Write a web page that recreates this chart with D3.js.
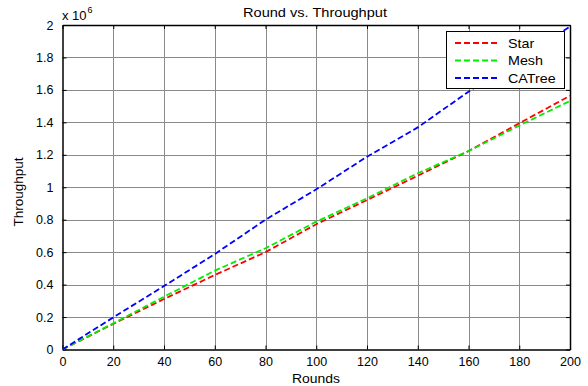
<!DOCTYPE html>
<html><head><meta charset="utf-8">
<script src="https://cdn.jsdelivr.net/npm/d3@7"></script>
<style>body{margin:0;background:#fff;}svg{display:block;font-family:"Liberation Sans",Arial,sans-serif;}</style>
</head><body><svg id="c" width="588" height="386"></svg>
<script>
const rounds = [0, 20, 40, 60, 80, 100, 120, 140, 160, 180, 200];
const star   = [0, 0.158e6, 0.311e6, 0.459e6, 0.600e6, 0.772e6, 0.921e6, 1.071e6, 1.223e6, 1.394e6, 1.564e6];
const mesh   = [0, 0.161e6, 0.325e6, 0.486e6, 0.624e6, 0.788e6, 0.932e6, 1.086e6, 1.223e6, 1.380e6, 1.532e6];
const catree = [0, 0.198e6, 0.391e6, 0.588e6, 0.800e6, 0.987e6, 1.188e6, 1.369e6, 1.589e6, 1.790e6, 1.990e6];
const seriesNames = ["Star", "Mesh", "CATree"];
const seriesColors = ["#ff0000", "#00ee00", "#0000ff"];
const xTicks = [0, 20, 40, 60, 80, 100, 120, 140, 160, 180, 200];
const yTicks = [0, 0.2e6, 0.4e6, 0.6e6, 0.8e6, 1.0e6, 1.2e6, 1.4e6, 1.6e6, 1.8e6, 2.0e6];

const svg = d3.select("#c");
const L = 62.5, R = 570, T = 25, B = 349.5;
const x = d3.scaleLinear().domain([0, 200]).range([L, R]);
const y = d3.scaleLinear().domain([0, 2e6]).range([B, T]);

// grid
const g = svg.append("g");
g.selectAll("line.vx").data(xTicks.slice(1, -1)).join("line")
  .attr("x1", d => Math.round(x(d)) + 0.5).attr("x2", d => Math.round(x(d)) + 0.5)
  .attr("y1", T).attr("y2", B).attr("stroke", "#8a8a8a").attr("stroke-width", 1);
g.selectAll("line.hy").data(yTicks.slice(1, -1)).join("line")
  .attr("y1", d => Math.round(y(d)) + 0.5).attr("y2", d => Math.round(y(d)) + 0.5)
  .attr("x1", L).attr("x2", R).attr("stroke", "#8a8a8a").attr("stroke-width", 1);

// axes
const fs = "12.5px";
const xAxis = d3.axisBottom(x).tickValues(xTicks).tickSizeInner(-4).tickSizeOuter(0).tickPadding(8).tickFormat(d3.format("d"));
const yAxis = d3.axisLeft(y).tickValues(yTicks).tickSizeInner(-4).tickSizeOuter(0).tickPadding(9).tickFormat(d => d / 1e6);
const xa = svg.append("g").attr("transform", `translate(0,${B})`).call(xAxis);
const ya = svg.append("g").attr("transform", `translate(${L},0)`).call(yAxis);
const xTop = svg.append("g").attr("transform", `translate(0,${T})`).call(d3.axisTop(x).tickValues(xTicks).tickSizeInner(-4).tickSizeOuter(0).tickFormat(""));
const yRight = svg.append("g").attr("transform", `translate(${R},0)`).call(d3.axisRight(y).tickValues(yTicks).tickSizeInner(-4).tickSizeOuter(0).tickFormat(""));
[xa, ya, xTop, yRight].forEach(a => {
  a.select(".domain").attr("stroke", "#000").attr("stroke-width", 1.5);
  a.selectAll(".tick line").attr("stroke", "#000");
  a.selectAll("text").attr("font-size", fs).attr("fill", "#000").attr("font-family", "Liberation Sans, Arial, sans-serif");
});

// lines
const allSeries = [star, mesh, catree];
const line = d3.line().x((d, i) => x(rounds[i])).y(d => y(d));
allSeries.forEach((s, k) => {
  svg.append("path").datum(s).attr("d", line).attr("fill", "none")
    .attr("stroke", seriesColors[k]).attr("stroke-width", 1.8).attr("stroke-dasharray", "6,3");
});

function stretched(sel, len) {
  sel.attr("textLength", len).attr("lengthAdjust", "spacingAndGlyphs");
  return sel;
}
// title & labels
stretched(svg.append("text").attr("x", 315).attr("y", 17).attr("text-anchor", "middle").attr("font-size", "13px").text("Round vs. Throughput"), 144);
stretched(svg.append("text").attr("x", 316).attr("y", 383).attr("text-anchor", "middle").attr("font-size", "13px").text("Rounds"), 48);
stretched(svg.append("text").attr("transform", "translate(23,192) rotate(-90)").attr("text-anchor", "middle").attr("font-size", "13px").text("Throughput"), 69);
const ex = svg.append("text").attr("x", 62).attr("y", 20).attr("font-size", "13px");
ex.append("tspan").text("x 10");
ex.append("tspan").attr("font-size", "9px").attr("dy", -7).attr("dx", 1).text("6");

// legend
const lg = svg.append("g");
lg.append("rect").attr("x", 446.5).attr("y", 31.5).attr("width", 118).attr("height", 57)
  .attr("fill", "#fff").attr("stroke", "#000").attr("stroke-width", 1);
seriesNames.forEach((n, k) => {
  const yy = 43 + k * 17.5;
  lg.append("line").attr("x1", 455).attr("x2", 500).attr("y1", yy).attr("y2", yy)
    .attr("stroke", seriesColors[k]).attr("stroke-width", 1.8).attr("stroke-dasharray", "6,3");
  const t = lg.append("text").attr("x", 508).attr("y", yy + 4.5).attr("font-size", "13px").text(n);
  t.attr("textLength", t.node().getComputedTextLength() * 1.1).attr("lengthAdjust", "spacingAndGlyphs");
});
</script></body></html>
